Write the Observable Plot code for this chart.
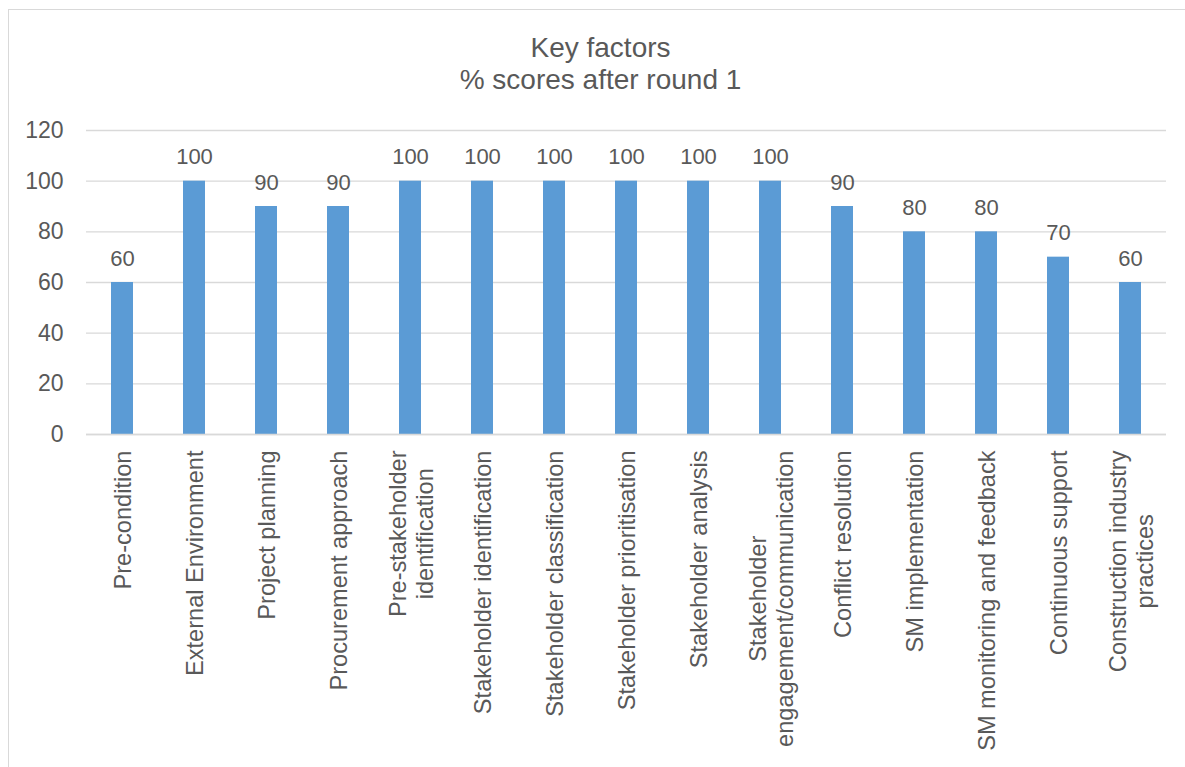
<!DOCTYPE html>
<html>
<head>
<meta charset="utf-8">
<script src="https://cdn.jsdelivr.net/npm/d3@7"></script>
<script src="https://cdn.jsdelivr.net/npm/@observablehq/plot@0.6"></script>
<style>
  html, body { margin: 0; padding: 0; background: #fff; }
  #wrap { position: relative; width: 1185px; height: 767px; overflow: hidden; font-family: "Liberation Sans", Arial, sans-serif; }
  #border { position: absolute; left: 8px; top: 9px; right: -2px; bottom: -2px; border-top: 1.5px solid #d9d9d9; border-left: 1.5px solid #d9d9d9; }
  #title { position: absolute; left: 8px; width: 1185px; top: 32px; text-align: center; font-size: 28px; line-height: 32px; color: #595959; }
  #chart { position: absolute; left: 0; top: 0; }
</style>
</head>
<body>
<div id="wrap">
  <div id="border"></div>
  <div id="chart"></div>
  <div id="title">Key factors<br>% scores after round 1</div>
</div>
<script>
const categories = [
  "Pre-condition",
  "External Environment",
  "Project planning",
  "Procurement approach",
  "Pre-stakeholder\nidentification",
  "Stakeholder identification",
  "Stakeholder classification",
  "Stakeholder prioritisation",
  "Stakeholder analysis",
  "Stakeholder\nengagement/communication",
  "Conflict resolution",
  "SM implementation",
  "SM monitoring and feedback",
  "Continuous support",
  "Construction industry\npractices"
];
const scores = [60, 100, 90, 90, 100, 100, 100, 100, 100, 100, 90, 80, 80, 70, 60];
const yTicks = [0, 20, 40, 60, 80, 100, 120];

const data = categories.map((c, i) => ({category: c, score: scores[i]}));
const textColor = "#595959";
const gridColor = "#d9d9d9";

const chart = Plot.plot({
  width: 1185,
  height: 767,
  marginLeft: 86,
  marginRight: 19,
  marginTop: 130,
  marginBottom: 333,
  style: {fontFamily: "'Liberation Sans', Arial, sans-serif", background: "transparent", color: textColor},
  x: {domain: categories, paddingInner: 0.694, paddingOuter: 0.347, align: 0.5},
  y: {domain: [0, 120], ticks: yTicks},
  marks: [
    Plot.ruleY(yTicks, {stroke: gridColor, strokeWidth: 1.4}),
    Plot.barY(data, {x: "category", y: "score", fill: "#5b9bd5"}),
    Plot.ruleY([0], {stroke: gridColor, strokeWidth: 1.6}),
    Plot.text(data, {x: "category", y: "score", text: d => String(d.score), dy: -24, lineAnchor: "middle", fontSize: 22, fill: textColor}),
    Plot.axisY({ticks: yTicks, tickSize: 0, tickPadding: 23, fontSize: 23, label: null, fill: textColor}),
    Plot.axisX({tickSize: 0, tickRotate: -90, tickPadding: 16, fontSize: 23.6, lineHeight: 1.15, label: null, fill: textColor, textAnchor: "end", lineAnchor: "middle"})
  ]
});

document.getElementById("chart").appendChild(chart);

// center the lines of multi-line category labels (as in the original)
chart.querySelectorAll('g[aria-label="x-axis tick label"] text').forEach(t => {
  const spans = t.querySelectorAll("tspan");
  if (spans.length > 1) {
    let w = 0;
    spans.forEach(s => { w = Math.max(w, s.getComputedTextLength()); });
    t.setAttribute("text-anchor", "middle");
    spans.forEach(s => s.setAttribute("x", -w / 2));
  }
});
</script>
</body>
</html>
